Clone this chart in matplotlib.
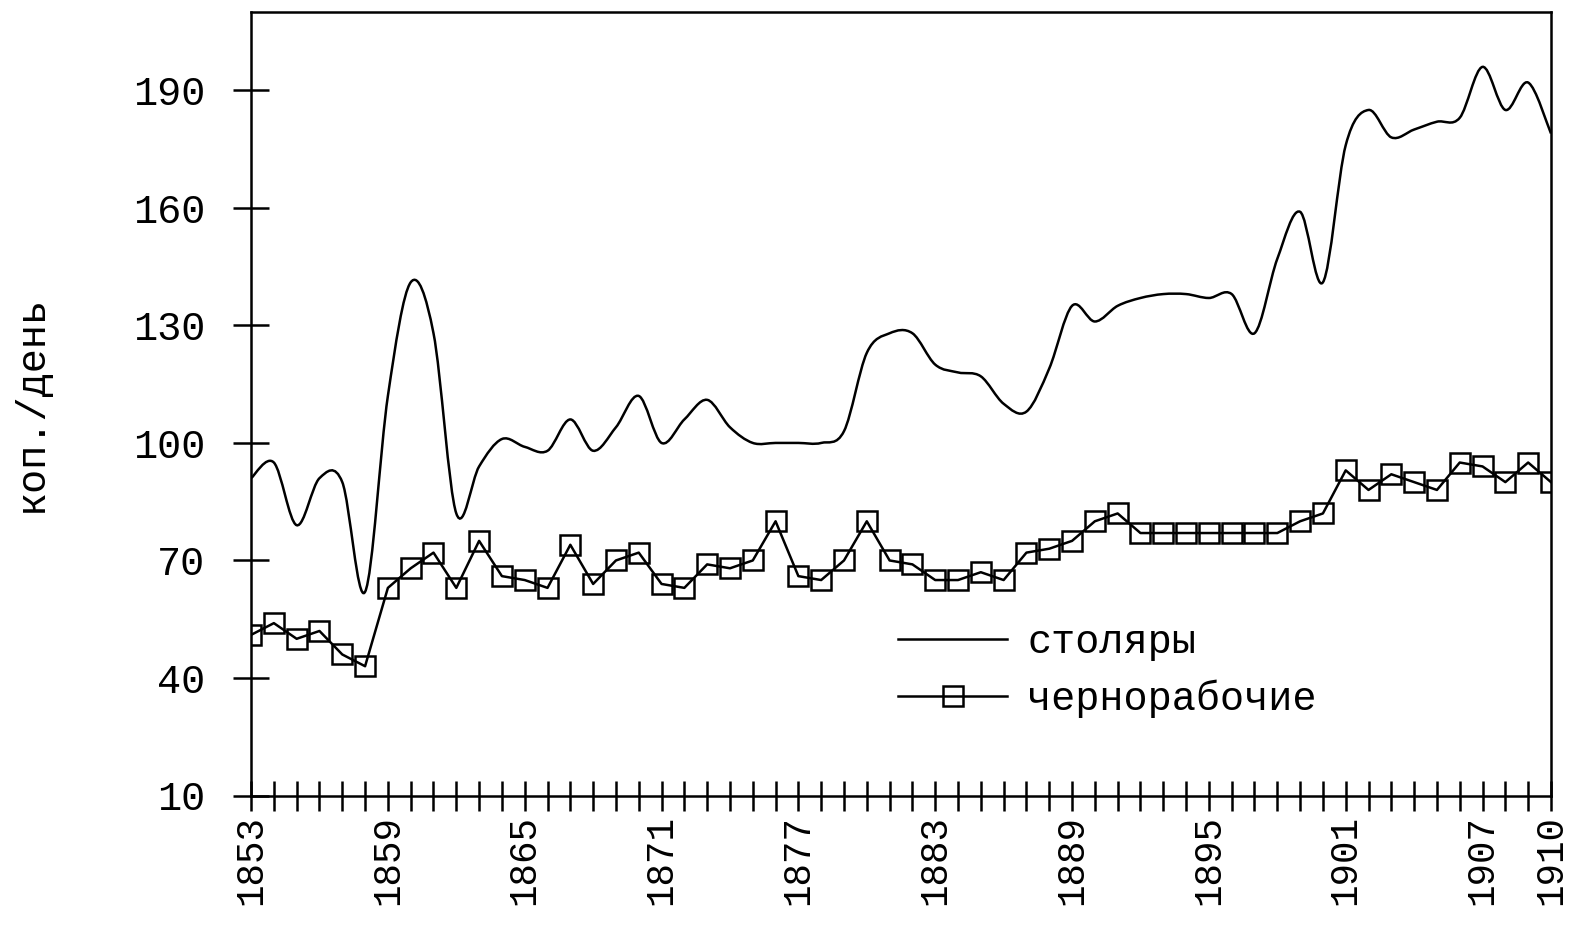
import numpy as np
import matplotlib
matplotlib.use("Agg")
from matplotlib import pyplot as plt
from matplotlib.path import Path
from matplotlib.patches import PathPatch

# годы 1853-1910
years = list(range(1853, 1911))

stolyary = [91, 95, 79, 91, 90, 62, 112, 141, 128, 82,
            94, 101, 99, 98, 106, 98, 104, 112, 100, 106,
            111, 104, 100, 100, 100, 100, 103, 123, 128, 128,
            120, 118, 117, 110, 108, 119, 135, 131, 135, 137,
            138, 138, 137, 138, 128, 147, 159, 141, 176, 185,
            178, 180, 182, 183, 196, 185, 192, 179]

chernorabochie = [51, 54, 50, 52, 46, 43, 63, 68, 72, 63,
                  75, 66, 65, 63, 74, 64, 70, 72, 64, 63,
                  69, 68, 70, 80, 66, 65, 70, 80, 70, 69,
                  65, 65, 67, 65, 72, 73, 75, 80, 82, 77,
                  77, 77, 77, 77, 77, 77, 80, 82, 93, 88,
                  92, 90, 88, 95, 94, 90, 95, 90]

yticks = [10, 40, 70, 100, 130, 160, 190]
xlabel_years = [1853, 1859, 1865, 1871, 1877, 1883, 1889, 1895, 1901, 1907, 1910]

plt.rcParams['font.family'] = ['Liberation Mono', 'DejaVu Sans']
FS = 29
LW = 1.8

fig = plt.figure(figsize=(15.94, 9.25), dpi=100)
ax = fig.add_axes([0.1575, 0.14, 0.8155, 0.847])


def smooth_path(x, y):
    # сглаженная линия как в Excel: кривые Безье через точки
    x = np.asarray(x, float)
    y = np.asarray(y, float)
    px = np.concatenate([[x[0]], x, [x[-1]]])
    py = np.concatenate([[y[0]], y, [y[-1]]])
    verts = [(x[0], y[0])]
    codes = [Path.MOVETO]
    for i in range(1, len(px) - 2):
        c1 = (px[i] + (px[i + 1] - px[i - 1]) / 6, py[i] + (py[i + 1] - py[i - 1]) / 6)
        c2 = (px[i + 1] - (px[i + 2] - px[i]) / 6, py[i + 1] - (py[i + 2] - py[i]) / 6)
        verts += [c1, c2, (px[i + 1], py[i + 1])]
        codes += [Path.CURVE4] * 3
    return Path(verts, codes)


ax.add_patch(PathPatch(smooth_path(years, stolyary), fill=False, lw=LW, edgecolor='black'))
ax.plot([], [], color='black', lw=LW, label='столяры')
ax.plot(years, chernorabochie, color='black', lw=LW, marker='s', markersize=14.5,
        markerfacecolor='none', markeredgewidth=LW, label='чернорабочие')

ax.set_xlim(1853, 1910)
ax.set_ylim(10, 210)
ax.set_yticks(yticks)
ax.set_xticks(xlabel_years)
ax.set_xticks(years, minor=True)
ax.tick_params(axis='y', direction='inout', length=26, width=LW, labelsize=FS, pad=20)
ax.tick_params(axis='x', which='both', direction='inout', length=22, width=LW,
               labelsize=27, labelrotation=90, pad=3)
for s in ax.spines.values():
    s.set_linewidth(LW)

ax.set_ylabel('коп./день', fontsize=FS, labelpad=60)

ax.legend(loc='upper left', bbox_to_anchor=(0.498, 0.22), frameon=False, fontsize=FS,
          handlelength=2.7, handletextpad=0.5, borderpad=0, borderaxespad=0,
          labelspacing=0.45)

fig.savefig('out.png', dpi=100, facecolor='white')
